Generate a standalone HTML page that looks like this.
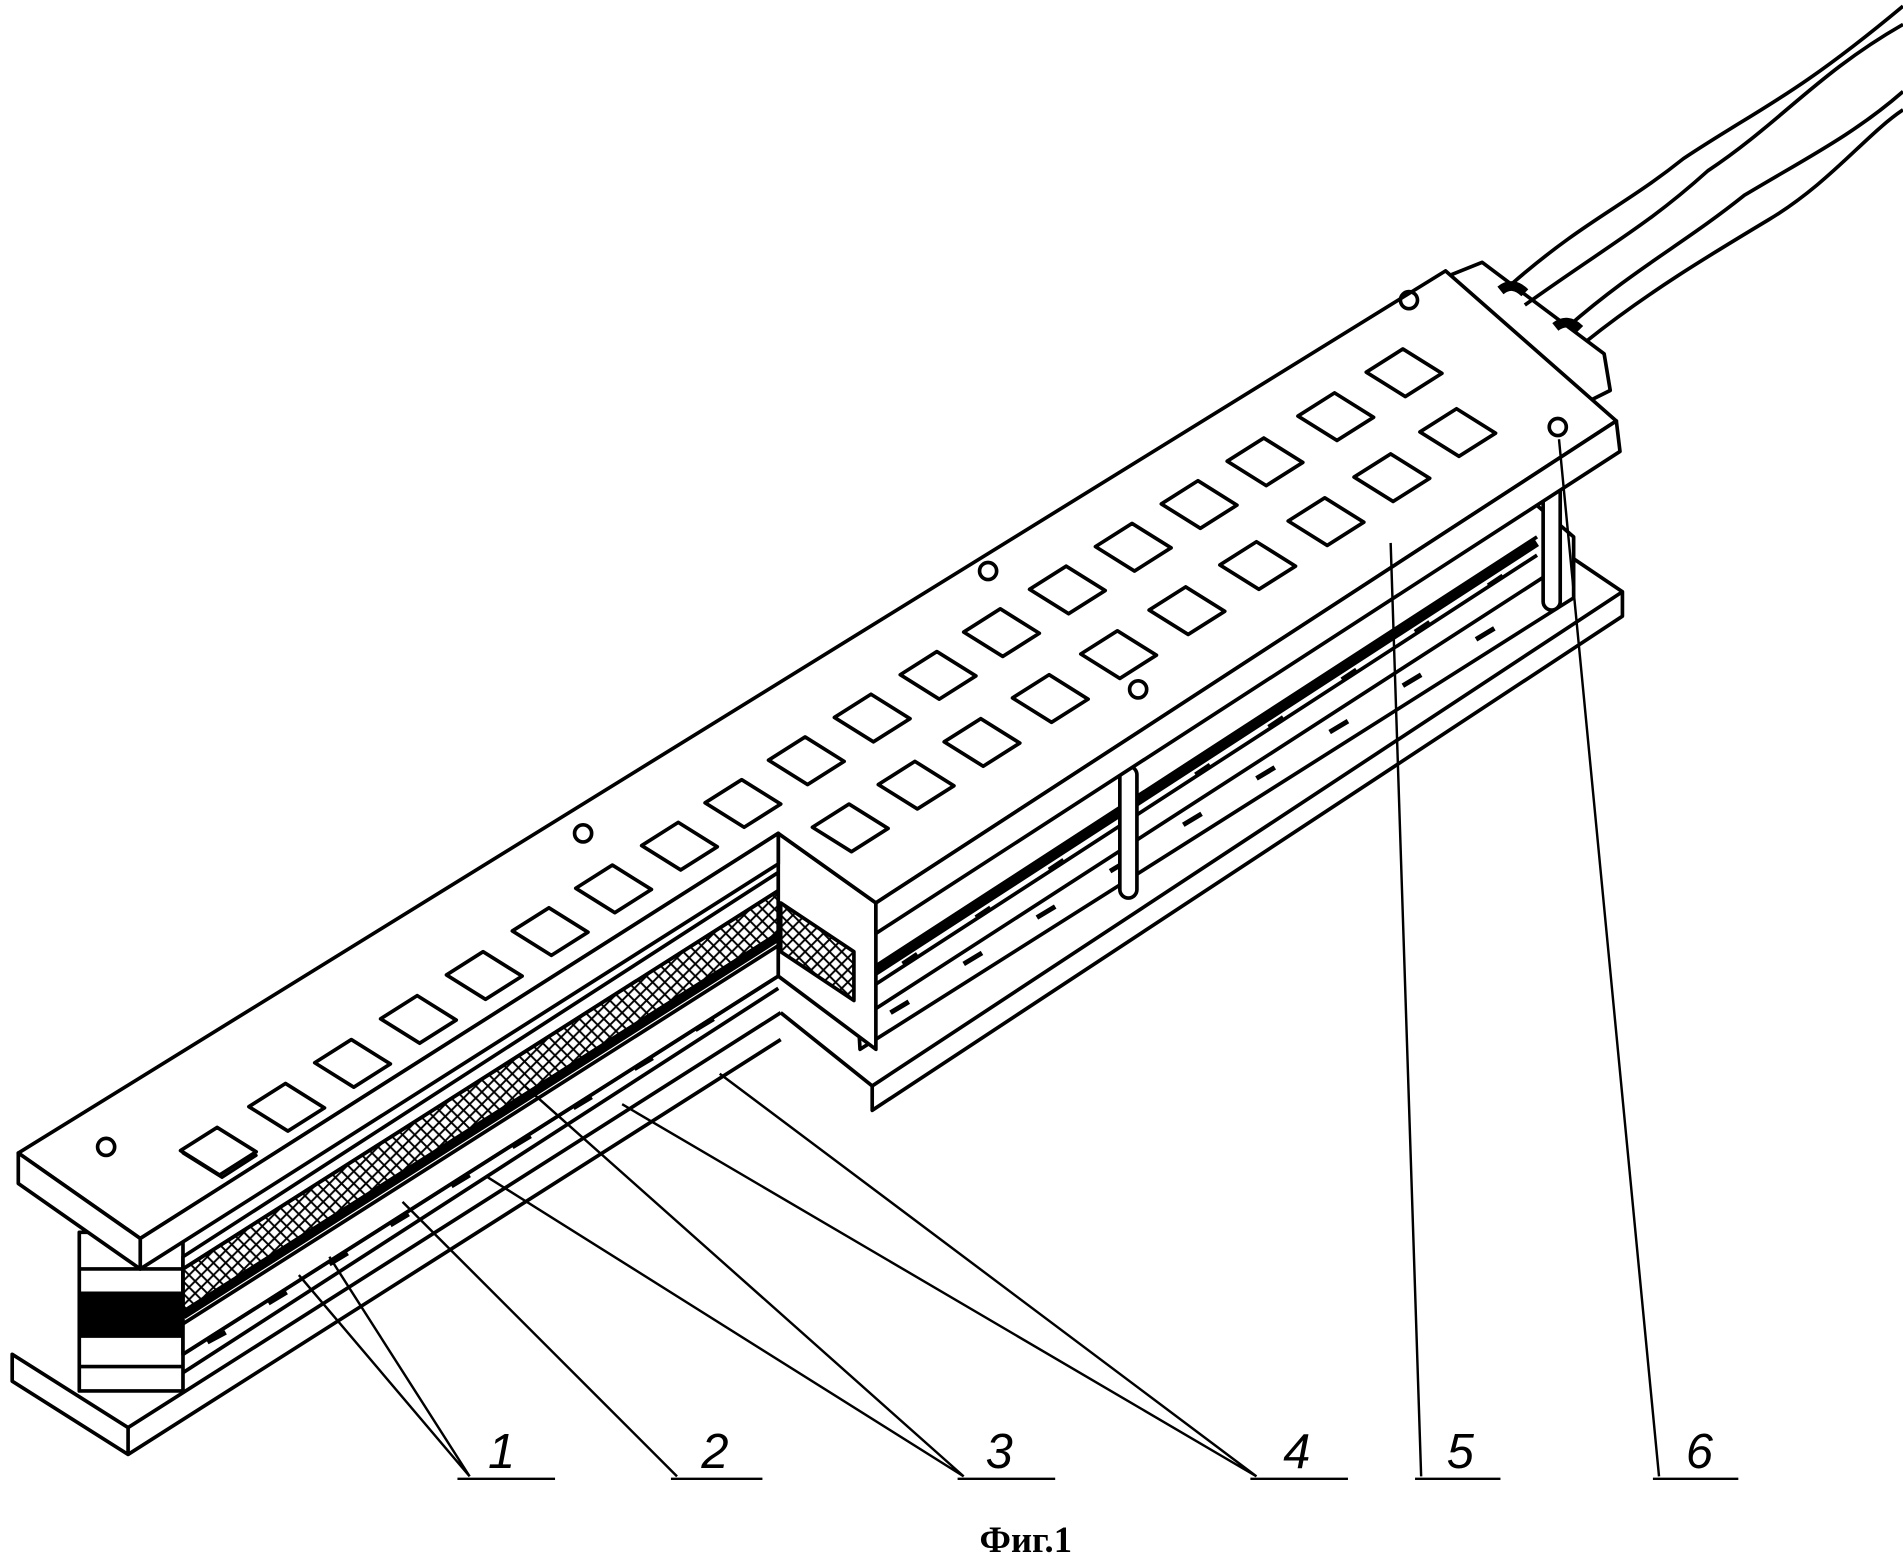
<!DOCTYPE html>
<html><head><meta charset="utf-8"><style>
html,body{margin:0;padding:0;background:#fff;width:1903px;height:1563px;overflow:hidden}
svg{display:block}
</style></head><body>
<svg width="1903" height="1563" viewBox="0 0 1560 1281" preserveAspectRatio="none" xmlns="http://www.w3.org/2000/svg">
<defs>
<pattern id="xh" width="10" height="10" patternUnits="userSpaceOnUse">
<path d="M0 0L10 10M10 0L0 10" stroke="#000" stroke-width="1.6"/>
</pattern>
<g id="sq"><path d="M0 0l22-14 22 14-22 14z" fill="none"/><rect x="-16" y="-13" width="34" height="24" transform="skewY(-33)" fill="#fff" stroke="#000" stroke-width="3"/></g>
</defs>
<g fill="none" stroke="#000" stroke-width="3" stroke-linejoin="round">
<!-- cables -->
<path d="M1240 232 C1300 180 1330 170 1380 130 C1440 90 1470 80 1560 5" />
<path d="M1250 250 C1320 200 1350 185 1400 140 C1460 100 1490 60 1560 20"/>
<path d="M1285 268 C1340 220 1380 200 1430 160 C1480 130 1520 110 1560 75"/>
<path d="M1300 280 C1350 240 1400 210 1450 180 C1500 150 1530 110 1560 90"/>
<!-- connector block -->
<path d="M1190 225 L1215 215 L1315 290 L1320 320 L1300 330"/>
<path d="M1230 238 q10 -8 20 2 M1275 268 q10 -8 20 2" stroke-width="8"/>
<!-- bottom plate -->
<path d="M10 1110 L105 1170 L105 1192 L10 1132 Z" fill="#fff"/>
<path d="M105 1170 L640 830 M105 1192 L640 852"/>
<path d="M715 890 L1330 485 L1330 505 L715 910 Z" fill="#fff"/>
<path d="M640 830 L715 890 M1330 485 L1290 458"/>
<!-- left stack -->
<rect x="65" y="1010" width="85" height="130" fill="#fff"/>
<path d="M65 1040 H150 M65 1060 H150 M65 1095 H150 M65 1120 H150"/>
<rect x="67" y="1062" width="81" height="31" fill="#000"/>
<!-- layers along left front -->
<polygon points="150,1030 638,715 638,800 150,1110" fill="#fff"/>
<polygon points="150,1040 638,730 638,765 150,1075" fill="url(#xh)"/>
<path d="M150 1040 L638 730 M150 1075 L638 765 M150 1085 L638 775 M150 1110 L638 800"/>
<path d="M150 1078 L638 768" stroke-width="7"/>
<path d="M170 1100 l15-8 M220 1068 l15-9 M270 1036 l15-9 M320 1004 l15-9 M370 972 l15-9 M420 940 l15-9 M470 908 l15-9 M520 876 l15-9 M570 844 l15-9" stroke-width="4"/>
<path d="M150 1125 L638 810"/>
<!-- layers along right front -->
<polygon points="700,770 1255,410 1290,440 1290,490 705,860" fill="#fff"/>
<path d="M705 800 L1260 440 M705 815 L1260 455 M705 835 L1270 470"/>
<path d="M705 805 L1260 445" stroke-width="6"/>
<path d="M730 830 l15-9 M790 790 l15-9 M850 752 l15-9 M910 714 l15-9 M970 676 l15-9 M1030 638 l15-9 M1090 600 l15-9 M1150 562 l15-9 M1210 524 l15-9" stroke-width="4"/>
<path d="M740 790 l12-8 M800 752 l12-8 M860 713 l12-8 M920 674 l12-8 M980 635 l12-8 M1040 596 l12-8 M1100 557 l12-8 M1160 518 l12-8 M1220 480 l12-8" stroke-width="4"/>
<!-- posts -->
<rect x="918" y="628" width="14" height="108" rx="7" fill="#fff"/>
<rect x="1265" y="392" width="14" height="108" rx="7" fill="#fff"/>
<!-- notch inner block -->
<polygon points="638,683 718,740 718,860 638,800" fill="#fff"/>
<polygon points="640,740 700,780 700,820 640,780" fill="url(#xh)"/>
<!-- top plate -->
<polygon points="15,945 1185,222 1325,345 718,740 638,683 115,1015" fill="#fff"/>
<polygon points="15,945 115,1015 115,1040 15,970" fill="#fff"/>
<polygon points="115,1015 638,683 638,708 115,1040" fill="#fff"/>
<polygon points="718,740 1325,345 1328,370 718,765" fill="#fff"/>
<!-- holes on top -->
<circle cx="87" cy="940" r="7"/><circle cx="478" cy="683" r="7"/><circle cx="810" cy="468" r="7"/><circle cx="1155" cy="246" r="7"/><circle cx="933" cy="565" r="7"/><circle cx="1277" cy="350" r="7"/>
<g stroke-width="2.5">
<g id="r1">
<path d="M150 945 l28-18 32 20 -28 18z"/>
</g>
</g>
</g>
<g fill="#fff" stroke="#000" stroke-width="3" stroke-linejoin="round">
<!-- row 1 squares -->
<g id="sqs"></g>
<path d="M148 943 l30-19 32 20 -30 19z M204 907 l30-19 32 20 -30 19z M258 871 l30-19 32 20 -30 19z M312 835 l30-19 32 20 -30 19z M366 799 l30-19 32 20 -30 19z M420 763 l30-19 32 20 -30 19z M472 728 l30-19 32 20 -30 19z M526 693 l30-19 32 20 -30 19z M578 658 l30-19 32 20 -30 19z M630 623 l30-19 32 20 -30 19z M684 588 l30-19 32 20 -30 19z M738 553 l30-19 32 20 -30 19z M790 518 l30-19 32 20 -30 19z M844 483 l30-19 32 20 -30 19z M898 448 l30-19 32 20 -30 19z M952 413 l30-19 32 20 -30 19z M1006 378 l30-19 32 20 -30 19z M1064 341 l30-19 32 20 -30 19z M1120 305 l30-19 32 20 -30 19z"/>
<path d="M666 678 l30-19 32 20 -30 19z M720 643 l30-19 32 20 -30 19z M774 608 l30-19 32 20 -30 19z M830 572 l30-19 32 20 -30 19z M886 536 l30-19 32 20 -30 19z M942 500 l30-19 32 20 -30 19z M1000 463 l30-19 32 20 -30 19z M1056 427 l30-19 32 20 -30 19z M1110 391 l30-19 32 20 -30 19z M1164 354 l30-19 32 20 -30 19z"/>
</g>
<g fill="none" stroke="#000" stroke-width="2">
<!-- leader lines -->
<path d="M245 1045 L385 1210 M270 1030 L385 1210 M330 985 L555 1210 M400 965 L790 1210 M430 890 L790 1210 M510 905 L1030 1210 M590 880 L1030 1210 M1140 445 L1165 1210 M1278 360 L1360 1210"/>
<path d="M375 1212 H455 M550 1212 H625 M785 1212 H865 M1025 1212 H1105 M1160 1212 H1230 M1355 1212 H1425"/>
</g>
<g font-family="Liberation Sans, sans-serif" font-style="italic" font-size="40" fill="#000">
<text x="400" y="1203">1</text><text x="575" y="1203">2</text><text x="808" y="1203">3</text><text x="1052" y="1203">4</text><text x="1186" y="1203">5</text><text x="1382" y="1203">6</text>
</g>
<text x="803" y="1272" font-family="Liberation Serif, serif" font-weight="bold" font-size="30" fill="#000">Фиг.1</text>
</svg>
</body></html>
